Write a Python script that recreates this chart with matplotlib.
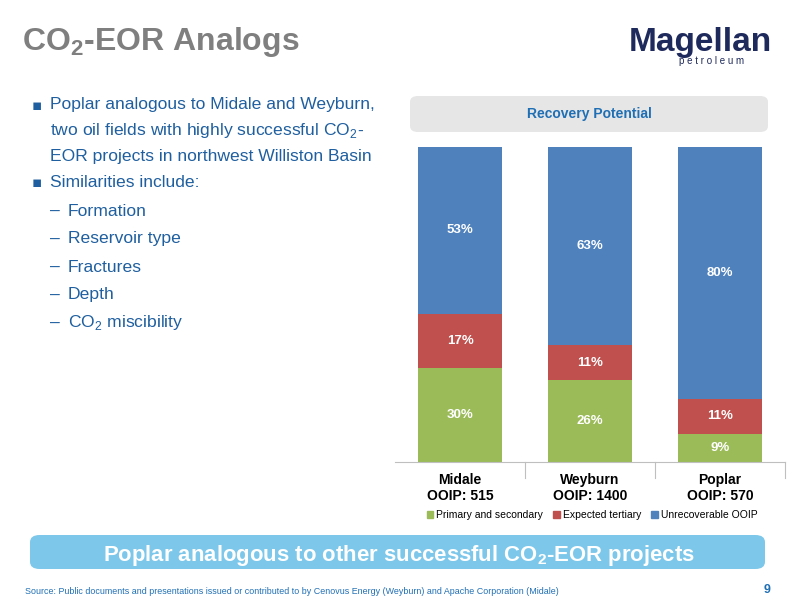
import matplotlib
matplotlib.use("Agg")
import matplotlib.pyplot as plt
from matplotlib.patches import FancyBboxPatch

plt.rcParams['font.family'] = ['Liberation Sans', 'DejaVu Sans']
plt.rcParams['mathtext.fontset'] = 'custom'
plt.rcParams['mathtext.rm'] = 'Liberation Sans'
plt.rcParams['mathtext.bf'] = 'Liberation Sans:bold'

categories = ["Midale\nOOIP: 515", "Weyburn\nOOIP: 1400", "Poplar\nOOIP: 570"]
primary = [30, 26, 9]
tertiary = [17, 11, 11]
unrecoverable = [53, 63, 80]
series_names = ["Primary and secondary", "Expected tertiary", "Unrecoverable OOIP"]
colors = ["#9BBB59", "#C0504D", "#4F81BD"]

W, H = 800, 600
fig = plt.figure(figsize=(8, 6), dpi=100)
fig.patch.set_facecolor("white")

def fx(x): return x / W
def fy(y): return 1 - y / H

# Title
fig.text(fx(22), fy(42), r"CO$_\mathbf{2}$-EOR Analogs", fontsize=23, fontweight="bold",
         color="#7F7F7F", va="center")
# Logo
fig.text(fx(700), fy(42), "Magellan", fontsize=24, fontweight="bold", color="#1F2A5C",
         ha="center", va="center")
fig.text(fx(712), fy(61), "p e t r o l e u m", fontsize=7, color="#1F2A5C", ha="center", va="center")

# Bullets
blue = "#1F5F9F"
fs = 12.6
fig.text(fx(32), fy(105), "▪", fontsize=11, color=blue, va="center", family="DejaVu Sans")
fig.text(fx(50), fy(105), "Poplar analogous to Midale and Weyburn,", fontsize=fs, color=blue, va="center")
fig.text(fx(50), fy(130), r"two oil fields with highly successful CO$_2$-", fontsize=fs, color=blue, va="center")
fig.text(fx(50), fy(156), "EOR projects in northwest Williston Basin", fontsize=fs, color=blue, va="center")
fig.text(fx(32), fy(183), "▪", fontsize=11, color=blue, va="center", family="DejaVu Sans")
fig.text(fx(50), fy(183), "Similarities include:", fontsize=fs, color=blue, va="center")
subs = ["Formation", "Reservoir type", "Fractures", "Depth", r"CO$_2$ miscibility"]
for i, s in enumerate(subs):
    y = 211 + i * 28
    fig.text(fx(50), fy(y), "–", fontsize=fs, color=blue, va="center")
    fig.text(fx(68), fy(y), s, fontsize=fs, color=blue, va="center")

# Recovery potential box
fig.patches.append(FancyBboxPatch((fx(410), fy(132)), fx(358), 36 / H,
                                  boxstyle="round,pad=0,rounding_size=0.01",
                                  transform=fig.transFigure, facecolor="#E6E6E6", edgecolor="none"))
fig.text(fx(589), fy(114), "Recovery Potential", fontsize=10, fontweight="bold",
         color="#1F6FB5", ha="center", va="center")

# Chart
ax = fig.add_axes([fx(395), fy(462), fx(390), (462 - 147) / H])
x = range(len(categories))
bottom = [0] * 3
for vals, c in zip([primary, tertiary, unrecoverable], colors):
    ax.bar(x, vals, 0.64, bottom=bottom, color=c)
    for i, v in enumerate(vals):
        ax.text(i, bottom[i] + v / 2, f"{v}%", ha="center", va="center",
                color="white", fontsize=9.5, fontweight="bold")
    bottom = [b + v for b, v in zip(bottom, vals)]
ax.set_xlim(-0.5, 2.5)
ax.set_ylim(0, 100)
ax.set_yticks([])
ax.set_xticks(list(x))
ax.set_xticklabels(categories, fontsize=10, fontweight="bold")
ax.tick_params(axis="x", length=0, pad=8)
for sp in ["top", "right", "left"]:
    ax.spines[sp].set_visible(False)
ax.spines["bottom"].set_color("#BFBFBF")
for xb in [0.5, 1.5, 2.5]:
    ax.plot([xb, xb], [0, -5], color="#BFBFBF", lw=0.8, clip_on=False)

handles = [plt.Rectangle((0, 0), 1, 1, color=c) for c in colors]
fig.legend(handles, series_names, loc="center", bbox_to_anchor=(fx(592), fy(515)),
           ncol=3, frameon=False, fontsize=7.5, handlelength=0.6, handleheight=0.6,
           columnspacing=1.0, handletextpad=0.3)

# Bottom banner
fig.patches.append(FancyBboxPatch((fx(30), fy(569)), fx(735), 34 / H,
                                  boxstyle="round,pad=0,rounding_size=0.012",
                                  transform=fig.transFigure, facecolor="#7CC7EA", edgecolor="none"))
fig.text(fx(399), fy(555), r"Poplar analogous to other successful CO$_\mathbf{2}$-EOR projects",
         fontsize=15.9, fontweight="bold", color="white", ha="center", va="center")

fig.text(fx(25), fy(591), "Source: Public documents and presentations issued or contributed to by Cenovus Energy (Weyburn) and Apache Corporation (Midale)",
         fontsize=6.4, color="#1F6FB5", va="center")
fig.text(fx(770), fy(590), "9", fontsize=9, fontweight="bold", color="#1F6FB5", ha="right", va="center")

fig.savefig("out.png", dpi=100)
